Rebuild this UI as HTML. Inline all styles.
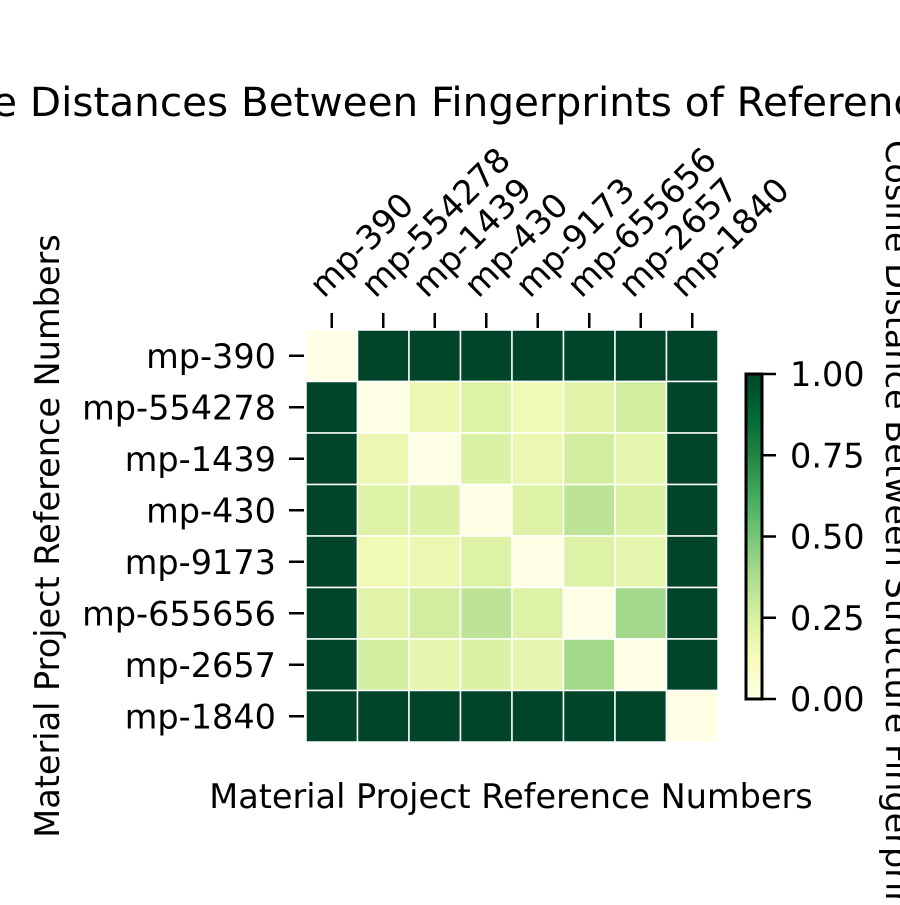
<!DOCTYPE html>
<html><head><meta charset="utf-8"><style>
html,body{margin:0;padding:0;background:#fff;}
svg text{font-family:"DejaVu Sans","Liberation Sans",sans-serif;fill:#000;}
</style></head><body>
<svg id="chart" width="900" height="900" viewBox="0 0 900 900" xmlns="http://www.w3.org/2000/svg">
<defs>
<linearGradient id="cbgrad" x1="0" y1="1" x2="0" y2="0">
<stop offset="0" stop-color="#ffffe5"/><stop offset="0.125" stop-color="#f7fcb9"/><stop offset="0.25" stop-color="#d9f0a3"/><stop offset="0.375" stop-color="#addd8e"/><stop offset="0.5" stop-color="#78c679"/><stop offset="0.625" stop-color="#41ab5d"/><stop offset="0.75" stop-color="#238443"/><stop offset="0.875" stop-color="#006837"/><stop offset="1" stop-color="#004529"/>
</linearGradient>
</defs>
<text x="522" y="116" font-size="40.5" text-anchor="middle">Cosine Distances Between Fingerprints of Reference Structures</text>
<g id="cells"></g>
<g id="axes"></g>
<text x="511" y="808" font-size="33.5" text-anchor="middle">Material Project Reference Numbers</text>
<text transform="translate(59,536) rotate(-90)" font-size="33.5" text-anchor="middle">Material Project Reference Numbers</text>
<rect x="746" y="374" width="16" height="325" fill="url(#cbgrad)" stroke="#000" stroke-width="3"/>
<g id="cbaxis"></g>
<text transform="translate(886,140) rotate(90)" font-size="33.5" text-anchor="start">Cosine Distance Between Structure Fingerprints</text>
</svg>
<script>
const labels = ["mp-390","mp-554278","mp-1439","mp-430","mp-9173","mp-655656","mp-2657","mp-1840"];
const row0 = [0,1,1,1,1,1,1,1];
const row1 = [1,0,0.17,0.23,0.15,0.22,0.27,1];
const row2 = [1,0.17,0,0.24,0.17,0.27,0.19,1];
const row3 = [1,0.23,0.24,0,0.23,0.33,0.24,1];
const row4 = [1,0.15,0.17,0.23,0,0.23,0.19,1];
const row5 = [1,0.22,0.27,0.33,0.23,0,0.40,1];
const row6 = [1,0.27,0.19,0.24,0.19,0.40,0,1];
const row7 = [1,1,1,1,1,1,1,0];
const cbTicks = [0,0.25,0.5,0.75,1];
const cbTickLabels = ["0.00","0.25","0.50","0.75","1.00"];
const rows = [row0,row1,row2,row3,row4,row5,row6,row7];

const NS="http://www.w3.org/2000/svg";
const x0=306,y0=330,size=412,n=labels.length,cw=size/n;
function xPos(i){return x0+i*cw;}
function yPos(j){return y0+j*cw;}
const stops=[[0,[255,255,229]],[0.125,[247,252,185]],[0.25,[217,240,163]],[0.375,[173,221,142]],[0.5,[120,198,121]],[0.625,[65,171,93]],[0.75,[35,132,67]],[0.875,[0,104,55]],[1,[0,69,41]]];
function color(v){v=Math.max(0,Math.min(1,v));for(let k=1;k<stops.length;k++){if(v<=stops[k][0]){const a=stops[k-1],b=stops[k];const t=(v-a[0])/(b[0]-a[0]);const c=a[1].map((x,i)=>Math.round(x+(b[1][i]-x)*t));return `rgb(${c})`;}}return "rgb(0,69,41)";}
function mk(tag,attrs,parent){const e=document.createElementNS(NS,tag);for(const k in attrs)e.setAttribute(k,attrs[k]);parent.appendChild(e);return e;}
const cells=document.getElementById('cells'),axes=document.getElementById('axes'),cba=document.getElementById('cbaxis');
rows.forEach((r,j)=>r.forEach((v,i)=>{
  const c=mk('rect',{x:xPos(i),y:yPos(j),width:cw,height:cw,fill:color(v),stroke:'#fff','stroke-width':1.5},cells);
  
  
}));
labels.forEach((l,i)=>{
  const cx=xPos(i)+cw/2, cy=yPos(i)+cw/2;
  const t1=mk('line',{x1:cx,y1:313,x2:cx,y2:328,stroke:'#000','stroke-width':2.5},axes);
  
  
  const xl=mk('text',{transform:`translate(${cx-8},299) rotate(-45)`,'font-size':33.5},axes);
  xl.textContent=l;
  
  
  const t2=mk('line',{x1:289,y1:cy,x2:304,y2:cy,stroke:'#000','stroke-width':2.5},axes);
  
  
  const yl=mk('text',{x:276,y:cy+12,'font-size':33.5,'text-anchor':'end'},axes);
  yl.textContent=l;
  
  
});
function cbY(v){return 699-v*325;}
cbTicks.forEach((v,k)=>{
  const t=mk('line',{x1:762,y1:cbY(v),x2:776,y2:cbY(v),stroke:'#000','stroke-width':2.5},cba);
  
  
  const tl=mk('text',{x:790,y:cbY(v)+12,'font-size':33.5},cba);
  tl.textContent=cbTickLabels[k];
  
  
});
</script>
</body></html>
